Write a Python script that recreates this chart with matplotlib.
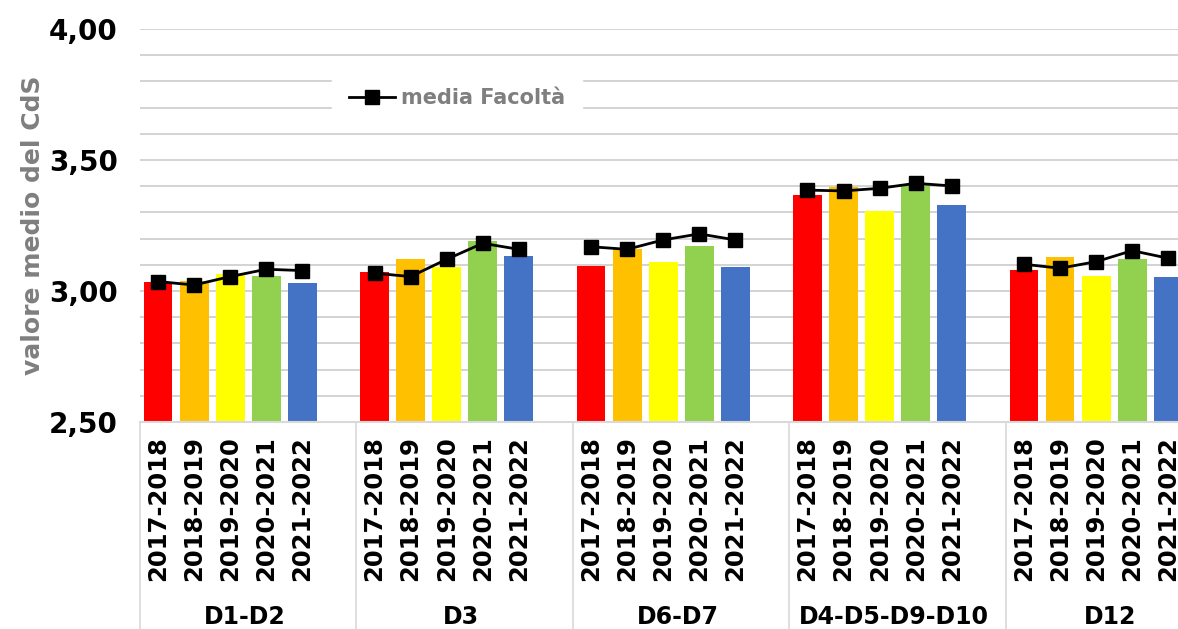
import numpy as np
import matplotlib.pyplot as plt
from matplotlib.ticker import MultipleLocator, FuncFormatter
import matplotlib.transforms as mtransforms

# dati
gruppi = ['D1-D2', 'D3', 'D6-D7', 'D4-D5-D9-D10', 'D12']
anni = ['2017-2018', '2018-2019', '2019-2020', '2020-2021', '2021-2022']
colori = ['#FF0000', '#FFC000', '#FFFF00', '#92D050', '#4472C4']

# valore medio del CdS (una lista per gruppo, un valore per anno)
cds_d1d2 = [3.034, 3.038, 3.064, 3.058, 3.029]
cds_d3 = [3.071, 3.121, 3.093, 3.192, 3.135]
cds_d6d7 = [3.097, 3.159, 3.110, 3.173, 3.090]
cds_d4d10 = [3.366, 3.396, 3.304, 3.405, 3.327]
cds_d12 = [3.080, 3.129, 3.057, 3.121, 3.052]

# media Facoltà
fac_d1d2 = [3.036, 3.023, 3.055, 3.083, 3.078]
fac_d3 = [3.068, 3.055, 3.121, 3.182, 3.159]
fac_d6d7 = [3.169, 3.159, 3.195, 3.218, 3.195]
fac_d4d10 = [3.385, 3.382, 3.392, 3.411, 3.401]
fac_d12 = [3.102, 3.087, 3.112, 3.154, 3.125]

cds = [cds_d1d2, cds_d3, cds_d6d7, cds_d4d10, cds_d12]
fac = [fac_d1d2, fac_d3, fac_d6d7, fac_d4d10, fac_d12]

slot = 6  # 5 anni + uno spazio vuoto per gruppo

fig = plt.figure(figsize=(11.78, 6.29), dpi=100)
ax = fig.add_axes([140 / 1178, (629 - 422) / 629, (1178 - 140) / 1178, 393 / 629])

for j in range(len(anni)):
    xs = [g * slot + j + 0.5 for g in range(len(gruppi))]
    ys = [cds[g][j] for g in range(len(gruppi))]
    ax.bar(xs, [y - 2.5 for y in ys], bottom=2.5, width=0.8, color=colori[j], zorder=2)

# linea media Facoltà, interrotta tra i gruppi
lx, ly = [], []
for g in range(len(gruppi)):
    for j in range(len(anni)):
        lx.append(g * slot + j + 0.5)
        ly.append(fac[g][j])
    lx.append(g * slot + 5.5)
    ly.append(np.nan)
ax.plot(lx, ly, color='black', lw=2, marker='s', markersize=10, zorder=3,
        label='media Facoltà')

ax.set_xlim(0, (1178 - 140) / 36.08)
ax.set_ylim(2.5, 4.0)
ax.yaxis.set_major_locator(MultipleLocator(0.5))
ax.yaxis.set_minor_locator(MultipleLocator(0.1))
ax.yaxis.set_major_formatter(FuncFormatter(lambda v, p: f'{v:.2f}'.replace('.', ',')))
ax.grid(axis='y', which='both', color='#d3d3d3', lw=1.4, zorder=0)
ax.tick_params(axis='y', which='both', length=0, pad=16, labelsize=20)
for lab in ax.get_yticklabels():
    lab.set_fontweight('bold')
ax.set_xticks([])
for s in ['top', 'right', 'left']:
    ax.spines[s].set_visible(False)
ax.spines['bottom'].set_color('#d9d9d9')
ax.spines['bottom'].set_linewidth(1.5)

ax.set_ylabel('valore medio del CdS', fontsize=18, fontweight='bold', color='#7f7f7f',
              labelpad=3)

# etichette dell'asse x su due livelli
trans = mtransforms.blended_transform_factory(ax.transData, ax.transAxes)
for g, nome in enumerate(gruppi):
    for j, anno in enumerate(anni):
        ax.text(g * slot + j + 0.5, -0.035, anno, transform=trans, rotation=90,
                ha='center', va='top', fontsize=17.5, fontweight='bold', clip_on=False)
    ax.text(g * slot + 2.9, -0.497, nome, transform=trans, ha='center', va='center',
            fontsize=17, fontweight='bold', clip_on=False)
    ax.plot([g * slot, g * slot], [0, -0.53], transform=trans, color='#d9d9d9',
            lw=1.2, clip_on=False)

leg = ax.legend(loc='center', bbox_to_anchor=(457 / 1178, (629 - 98) / 629),
                bbox_transform=fig.transFigure, frameon=True, fancybox=False,
                facecolor='white', edgecolor='white', framealpha=1,
                prop={'weight': 'bold', 'size': 15}, handlelength=2.2,
                handletextpad=0.3, borderpad=0.8)
for t in leg.get_texts():
    t.set_color('#7f7f7f')

plt.savefig('out.png', dpi=100)
